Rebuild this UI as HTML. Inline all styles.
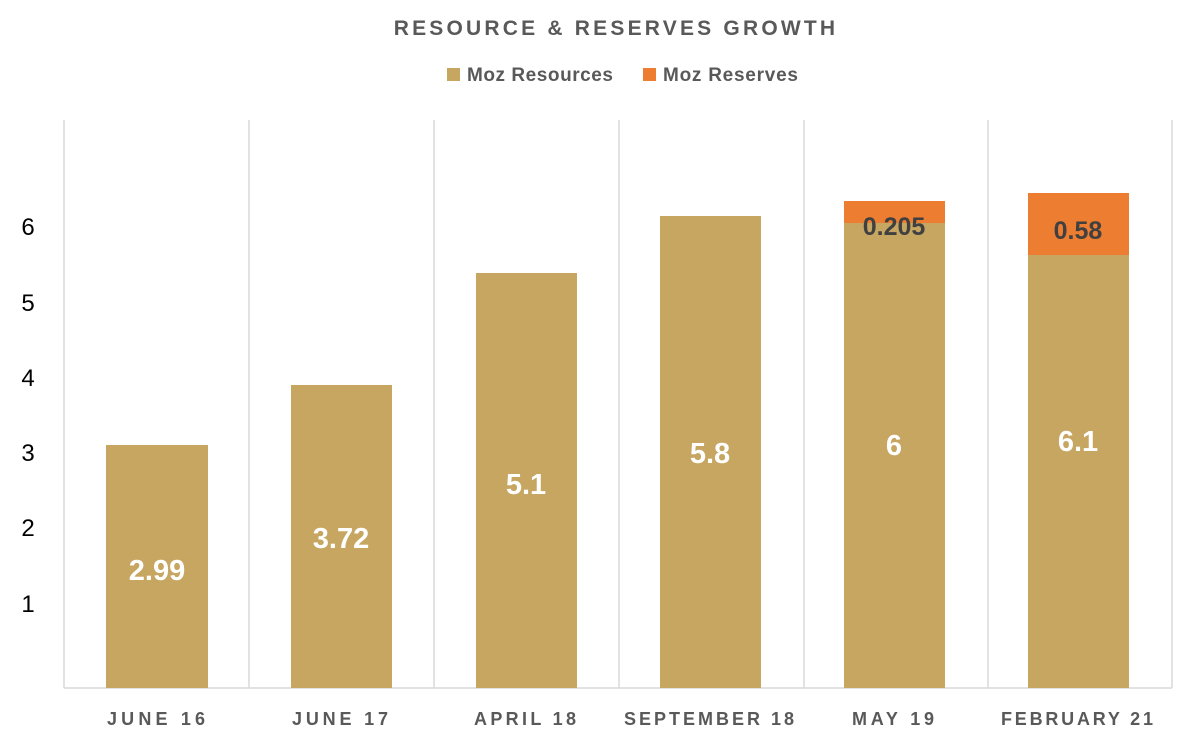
<!DOCTYPE html>
<html><head><meta charset="utf-8"><style>
body{margin:0;background:#fff;}
svg text{font-family:"Liberation Sans",sans-serif;}
</style></head><body>
<svg width="1180" height="734" viewBox="0 0 1180 734" xmlns="http://www.w3.org/2000/svg">
<rect width="1180" height="734" fill="#fff"/>
<text x="616" y="35" text-anchor="middle" font-size="21" font-weight="bold" fill="#595959" letter-spacing="3.2">RESOURCE &amp; RESERVES GROWTH</text>
<rect x="447" y="68" width="13" height="13" fill="#C6A661"/>
<text x="467" y="81" font-size="19" font-weight="bold" fill="#595959" textLength="146">Moz Resources</text>
<rect x="643" y="68" width="13" height="13" fill="#ED7D31"/>
<text x="663" y="81" font-size="19" font-weight="bold" fill="#595959" textLength="135">Moz Reserves</text>
<g stroke="#d9d9d9" stroke-width="1.5">
<line x1="64" y1="120" x2="64" y2="688"/><line x1="249" y1="120" x2="249" y2="688"/>
<line x1="434" y1="120" x2="434" y2="688"/><line x1="619" y1="120" x2="619" y2="688"/>
<line x1="804" y1="120" x2="804" y2="688"/><line x1="988" y1="120" x2="988" y2="688"/>
<line x1="1172" y1="120" x2="1172" y2="688"/>
<line x1="64" y1="688" x2="1172" y2="688"/>
</g>
<g font-size="24" fill="#000" text-anchor="middle">
<text x="28" y="235">6</text><text x="28" y="311">5</text><text x="28" y="386">4</text>
<text x="28" y="461">3</text><text x="28" y="536">2</text><text x="28" y="612">1</text>
</g>
<g fill="#C6A661">
<rect x="106" y="445" width="102" height="243"/>
<rect x="291" y="385" width="101" height="303"/>
<rect x="476" y="273" width="101" height="415"/>
<rect x="660" y="216" width="101" height="472"/>
<rect x="844" y="223" width="101" height="465"/>
<rect x="1028" y="255" width="101" height="433"/>
</g>
<g fill="#ED7D31">
<rect x="844" y="201" width="101" height="22"/>
<rect x="1028" y="193" width="101" height="62"/>
</g>
<g font-size="29" font-weight="bold" fill="#fff" text-anchor="middle">
<text x="157" y="580">2.99</text><text x="341" y="548">3.72</text>
<text x="526" y="494">5.1</text><text x="710" y="463">5.8</text>
<text x="894" y="455">6</text><text x="1078" y="451">6.1</text>
</g>
<g font-size="25" font-weight="bold" fill="#404040" text-anchor="middle">
<text x="894" y="235">0.205</text><text x="1078" y="239">0.58</text>
</g>
<g font-size="18" font-weight="bold" fill="#595959" text-anchor="middle" letter-spacing="2">
<text x="157" y="725" textLength="100">JUNE 16</text><text x="341" y="725" textLength="98">JUNE 17</text>
<text x="526" y="725" textLength="104">APRIL 18</text><text x="710" y="725" textLength="172">SEPTEMBER 18</text>
<text x="894" y="725" textLength="84">MAY 19</text><text x="1078" y="725" textLength="154">FEBRUARY 21</text>
</g>
</svg>
</body></html>
